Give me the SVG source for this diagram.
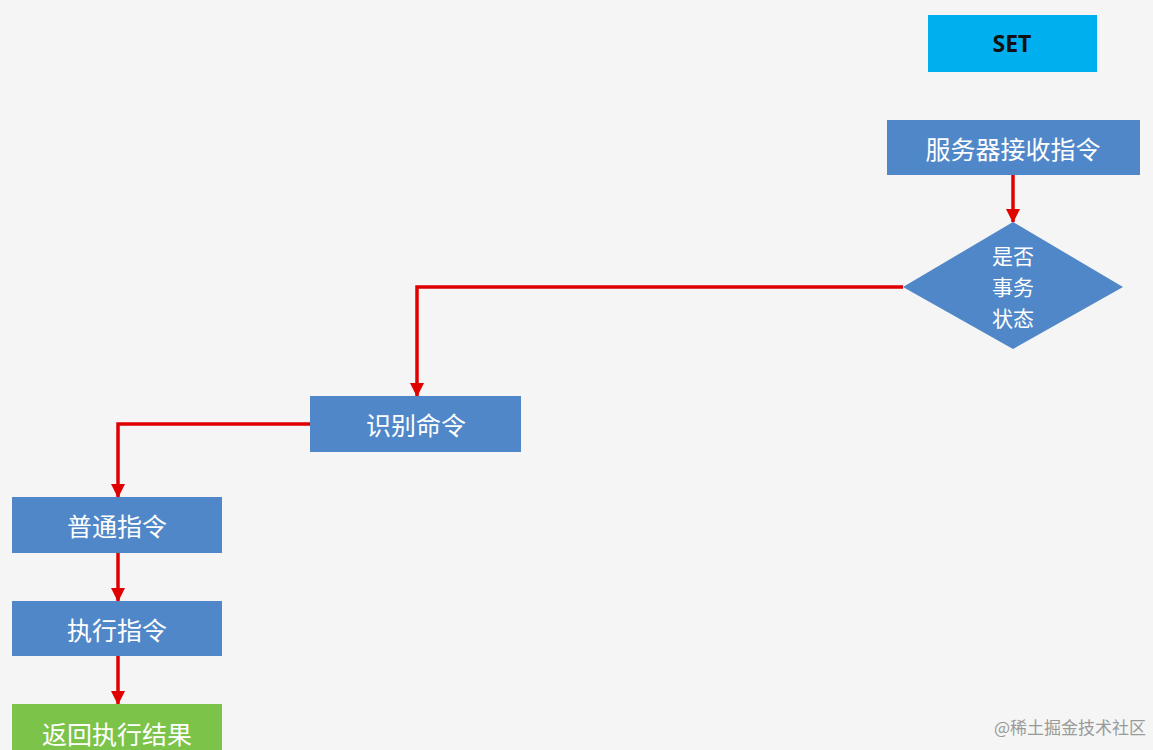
<svg xmlns="http://www.w3.org/2000/svg" width="1153" height="750" viewBox="0 0 1153 750">
<style>
.box{fill:#5087c8;}
.t{font-family:"Noto Sans CJK SC","Liberation Sans",sans-serif;font-size:25px;fill:#ffffff;text-anchor:middle;dominant-baseline:central;}
.d{font-size:21px;}
.e{fill:none;stroke:#e00000;stroke-width:3.5;marker-end:url(#ah);}
</style>
<defs>
<marker id="ah" markerWidth="14" markerHeight="14" refX="13" refY="7" orient="auto" markerUnits="userSpaceOnUse" viewBox="0 0 14 14">
<path d="M0,0 L14,7 L0,14 Z" fill="#e00000"/>
</marker>
</defs>
<rect width="1153" height="750" fill="#f4f5f4"/>
<g id="connectors">
<path class="e" d="M1013,175 V222"/>
<path class="e" d="M903,287 H417 V396"/>
<path class="e" d="M310,424 H118 V497"/>
<path class="e" d="M118,553 V601"/>
<path class="e" d="M118,656 V704"/>
</g>
<g id="set">
<rect x="928" y="15" width="169" height="57" fill="#00b0ee"/>
<text x="1012" y="43" font-family="Open Sans,Liberation Sans,sans-serif" font-weight="bold" font-size="23" fill="#111" text-anchor="middle" dominant-baseline="central">SET</text>
</g>
<g id="recv">
<rect class="box" x="887" y="120" width="253" height="55"/>
<text class="t" x="1013" y="148">服务器接收指令</text>
</g>
<g id="decision">
<polygon class="box" points="1013,222 1123,287 1013,349 903,287"/>
<text class="t d" x="1013" y="255">是否</text>
<text class="t d" x="1013" y="286">事务</text>
<text class="t d" x="1013" y="317">状态</text>
</g>
<g id="identify">
<rect class="box" x="310" y="396" width="211" height="56"/>
<text class="t" x="416" y="424">识别命令</text>
</g>
<g id="normal">
<rect class="box" x="12" y="497" width="210" height="56"/>
<text class="t" x="117" y="525">普通指令</text>
</g>
<g id="exec">
<rect class="box" x="12" y="601" width="210" height="55"/>
<text class="t" x="117" y="629">执行指令</text>
</g>
<g id="result">
<rect x="12" y="704" width="210" height="50" fill="#7cc34a"/>
<text class="t" x="117" y="733">返回执行结果</text>
</g>
<text x="1146" y="734" font-family="Noto Sans CJK SC,sans-serif" font-size="17" fill="#9a9a9a" text-anchor="end">@稀土掘金技术社区</text>
</svg>
